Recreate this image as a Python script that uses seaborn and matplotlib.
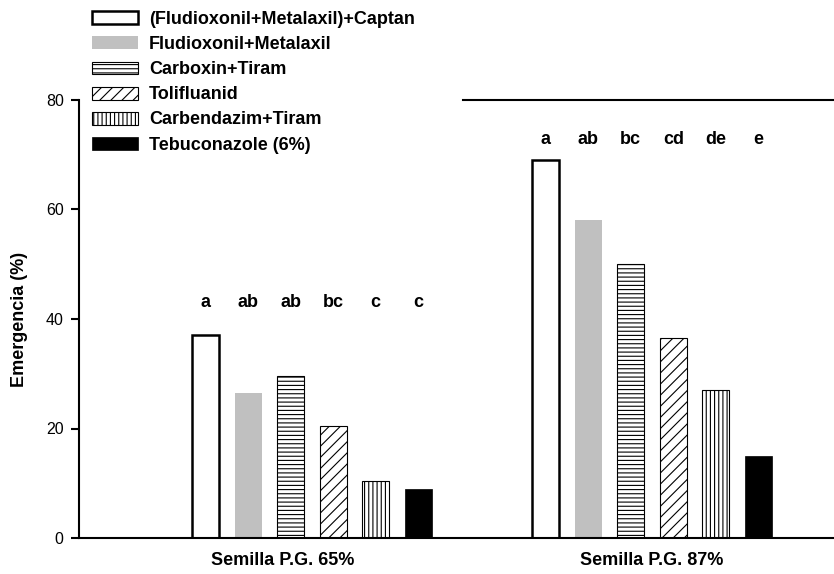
import matplotlib
matplotlib.use("Agg")
import matplotlib.pyplot as plt
from matplotlib.transforms import ScaledTranslation
import seaborn as sns
import pandas as pd

# ---- data ----
groups = ["Semilla P.G. 65%", "Semilla P.G. 87%"]
treatments = ["(Fludioxonil+Metalaxil)+Captan", "Fludioxonil+Metalaxil",
              "Carboxin+Tiram", "Tolifluanid", "Carbendazim+Tiram",
              "Tebuconazole (6%)"]
values_65 = [37, 26.5, 29.5, 20.5, 10.5, 9]
values_87 = [69, 58, 50, 36.5, 27, 15]
letters_65 = ["a", "ab", "ab", "bc", "c", "c"]
letters_87 = ["a", "ab", "bc", "cd", "de", "e"]
letters_height = [43, 72.7]
yticks = [0, 20, 40, 60, 80]

df = pd.DataFrame({
    "group": [groups[0]] * len(treatments) + [groups[1]] * len(treatments),
    "trat": treatments * 2,
    "value": values_65 + values_87,
})

sns.set_theme(style="white")
plt.rcParams["font.family"] = ["Liberation Sans", "DejaVu Sans"]
plt.rcParams["hatch.linewidth"] = 0.8
for k in ["text.color", "axes.labelcolor", "xtick.color", "ytick.color",
          "axes.edgecolor"]:
    plt.rcParams[k] = "black"

fig = plt.figure(figsize=(8.34, 5.74), dpi=100)
ax = fig.add_axes([79 / 834, 36 / 574, 755 / 834, 438 / 574])

palette = ["white", "#c0c0c0", "white", "white", "white", "black"]
sns.barplot(data=df, x="group", y="value", hue="trat", hue_order=treatments,
            palette=palette, width=0.75, gap=0.37, dodge=True, legend=False,
            ax=ax, saturation=1)

styles = [
    dict(edgecolor="black", linewidth=1.8, hatch=None),
    dict(edgecolor="none", linewidth=0, hatch=None),
    dict(edgecolor="black", linewidth=0.8, hatch="----"),
    dict(edgecolor="black", linewidth=0.8, hatch="///"),
    dict(edgecolor="black", linewidth=0.8, hatch="||||"),
    dict(edgecolor="black", linewidth=0.5, hatch=None),
]
for cont, st in zip(ax.containers, styles):
    for p in cont.patches:
        p.set_edgecolor(st["edgecolor"])
        p.set_linewidth(st["linewidth"])
        if st["hatch"]:
            p.set_hatch(st["hatch"])

# significance letters
all_letters = [letters_65, letters_87]
for ti, cont in enumerate(ax.containers):
    for gi, p in enumerate(cont.patches):
        cx = p.get_x() + p.get_width() / 2
        ax.text(cx, letters_height[gi], all_letters[gi][ti], ha="center",
                va="center", fontsize=13, fontweight="bold", color="black")

xmin, xmax = -0.685, 1.535
ax.set_xlim(xmin, xmax)
ax.set_ylim(0, 80)
ax.set_yticks(yticks)
ax.set_yticklabels([str(v) for v in yticks], fontsize=11.5)
ax.set_xlabel("")
ax.set_ylabel("Emergencia (%)", fontsize=13, fontweight="bold")
ax.yaxis.set_label_coords(-0.068, 0.5)

ax.tick_params(axis="y", length=6, width=1.5, direction="out", left=True,
               pad=5, colors="black")
ax.tick_params(axis="x", length=0, pad=10, colors="black")
for lab in ax.get_xticklabels():
    lab.set_fontsize(13)
    lab.set_fontweight("bold")
xl = ax.get_xticklabels()
xl[0].set_transform(xl[0].get_transform() + ScaledTranslation(-0.29, 0, fig.dpi_scale_trans))

for s in ["left", "bottom", "top"]:
    ax.spines[s].set_visible(True)
    ax.spines[s].set_color("black")
    ax.spines[s].set_linewidth(1.5)
ax.spines["right"].set_visible(False)
ax.spines["top"].set_bounds(xmin + 0.5086 * (xmax - xmin), xmax)

handles = [c.patches[0] for c in ax.containers]
leg = fig.legend(handles=handles, labels=treatments, loc="upper left",
                 bbox_to_anchor=(92 / 834, 1 - 11 / 574), frameon=False,
                 borderpad=0, borderaxespad=0, handlelength=2.55,
                 handleheight=0.72, handletextpad=0.6, labelspacing=0.45,
                 prop=dict(size=13, weight="bold"))
for t in leg.get_texts():
    t.set_color("black")

fig.savefig("out.png", dpi=100)
